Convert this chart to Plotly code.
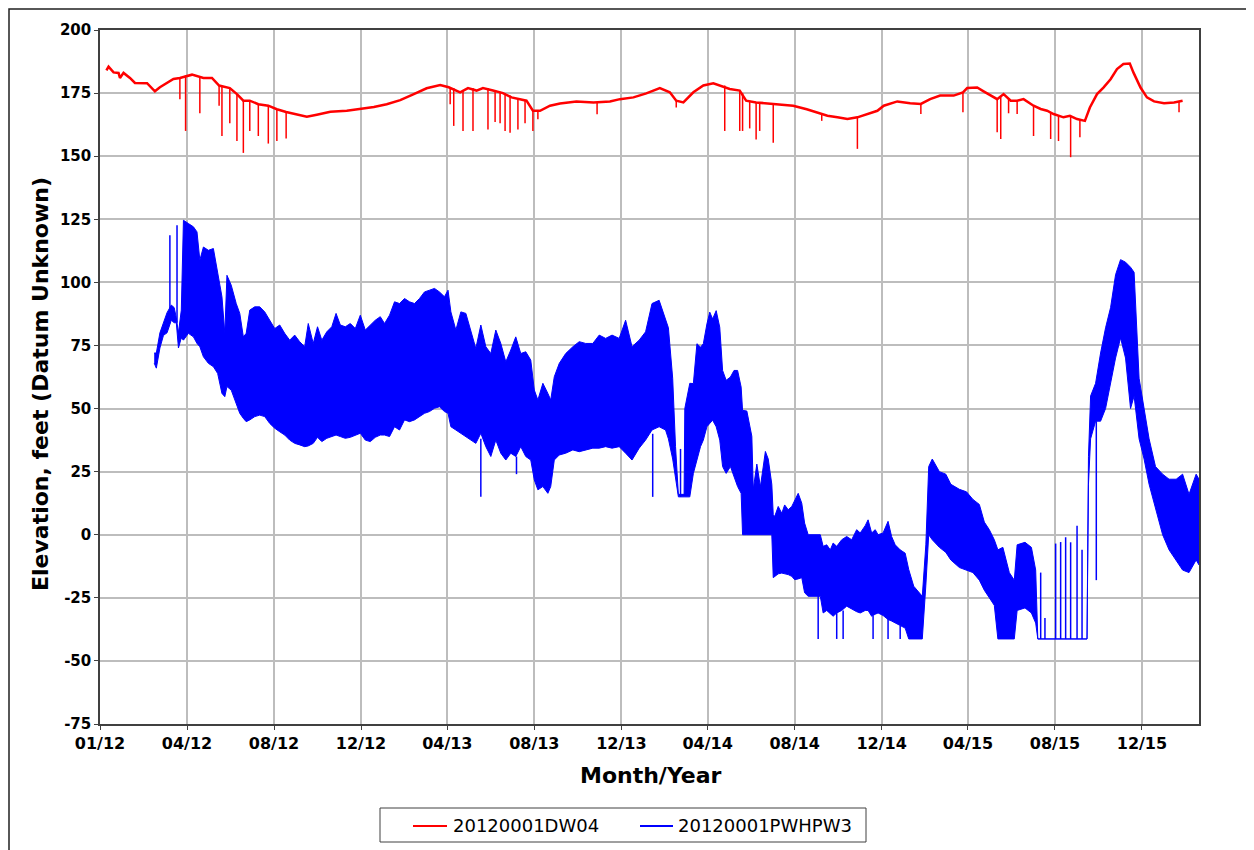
import plotly.graph_objects as go

# ---------------- data ----------------
# Red series 20120001DW04: smooth trace
red_dates = [
    "2011-12-10", "2011-12-13", "2011-12-20", "2011-12-27", "2011-12-29", "2012-01-03",
    "2012-01-12", "2012-01-19", "2012-02-05", "2012-02-12", "2012-02-16", "2012-02-23",
    "2012-03-04", "2012-03-13", "2012-03-22", "2012-04-08", "2012-04-24", "2012-05-06",
    "2012-05-16", "2012-05-31", "2012-06-10", "2012-06-19", "2012-06-28", "2012-07-10",
    "2012-07-24", "2012-08-05", "2012-08-18", "2012-09-02", "2012-09-16", "2012-09-30",
    "2012-10-19", "2012-11-11", "2012-11-30", "2012-12-19", "2013-01-06", "2013-01-25",
    "2013-02-13", "2013-03-03", "2013-03-22", "2013-04-03", "2013-04-19", "2013-04-30",
    "2013-05-12", "2013-05-21", "2013-06-04", "2013-06-18", "2013-06-30", "2013-07-21",
    "2013-07-30", "2013-08-09", "2013-08-23", "2013-09-06", "2013-09-29", "2013-10-23",
    "2013-11-15", "2013-11-29", "2013-12-18", "2014-01-05", "2014-01-24", "2014-02-07",
    "2014-02-16", "2014-02-26", "2014-03-12", "2014-03-26", "2014-04-09", "2014-04-18",
    "2014-05-02", "2014-05-16", "2014-05-25", "2014-06-08", "2014-07-11", "2014-07-30",
    "2014-08-18", "2014-09-08", "2014-09-16", "2014-09-30", "2014-10-14", "2014-10-28",
    "2014-11-11", "2014-11-25", "2014-12-04", "2014-12-23", "2015-01-10", "2015-01-25",
    "2015-02-07", "2015-02-21", "2015-03-12", "2015-03-25", "2015-03-31", "2015-04-14",
    "2015-04-23", "2015-05-03", "2015-05-12", "2015-05-21", "2015-05-31", "2015-06-09",
    "2015-06-18", "2015-07-02", "2015-07-12", "2015-07-21", "2015-07-30", "2015-08-13",
    "2015-08-22", "2015-09-01", "2015-09-12", "2015-09-19", "2015-09-29", "2015-10-08",
    "2015-10-18", "2015-10-27", "2015-11-05", "2015-11-14", "2015-11-19", "2015-11-29",
    "2015-12-08", "2015-12-18", "2016-01-01", "2016-01-15", "2016-01-27",
]
red_values = [
    184.0, 185.5, 183.2, 183.0, 181.0, 183.0,
    181.0, 179.0, 178.9, 176.6, 175.7, 177.3,
    179.0, 180.6, 181.0, 182.3, 181.0, 181.0,
    178.0, 177.0, 174.6, 172.0, 172.0, 170.6,
    170.0, 168.6, 167.5, 166.6, 165.6, 166.4,
    167.6, 168.0, 168.6, 169.5, 170.6, 172.2,
    174.6, 176.9, 178.2, 177.3, 175.3, 177.0,
    176.0, 177.0, 176.0, 175.0, 173.3, 172.0,
    168.0, 168.0, 170.0, 170.9, 171.7, 171.3,
    171.7, 172.6, 173.3, 174.9, 177.0, 175.3,
    172.0, 171.3, 175.3, 178.0, 178.9, 178.0,
    176.6, 176.0, 172.0, 171.3, 170.6, 170.0,
    168.6, 166.6, 166.0, 165.4, 164.7, 165.4,
    166.7, 168.0, 170.0, 171.7, 171.0, 170.7,
    172.6, 174.0, 174.0, 175.3, 177.0, 177.2,
    175.7, 174.0, 172.6, 174.6, 172.0, 172.0,
    172.6, 170.0, 168.7, 168.0, 166.7, 165.4,
    166.0, 164.7, 164.0, 169.3, 174.6, 177.2,
    180.5, 184.5, 186.5, 186.7, 183.2, 177.2,
    173.3, 171.7, 171.0, 171.3, 172.0,
]
# Red downward spikes: date, level before spike, spike bottom
red_spike_dates = [
    "2012-03-22", "2012-03-30", "2012-04-19", "2012-05-16", "2012-05-20", "2012-05-31",
    "2012-06-10", "2012-06-19", "2012-06-28", "2012-07-10", "2012-07-24", "2012-08-05",
    "2012-08-18", "2013-04-05", "2013-04-10", "2013-04-23", "2013-05-07", "2013-05-28",
    "2013-06-07", "2013-06-14", "2013-06-21", "2013-06-28", "2013-07-09", "2013-07-19",
    "2013-07-30", "2013-08-06", "2013-10-28", "2014-02-16", "2014-04-25", "2014-05-16",
    "2014-05-20", "2014-05-30", "2014-06-08", "2014-06-13", "2014-07-02", "2014-09-08",
    "2014-10-28", "2015-01-25", "2015-03-25", "2015-05-12", "2015-05-17", "2015-05-28",
    "2015-06-09", "2015-07-02", "2015-07-26", "2015-08-06", "2015-08-23", "2015-09-05",
    "2016-01-22",
]
red_spike_tops = [
    181.0, 182.0, 181.5, 178.0, 178.0, 177.0,
    174.6, 172.0, 172.0, 170.6, 170.0, 168.6,
    167.5, 177.0, 177.0, 176.0, 177.0, 177.0,
    176.0, 175.5, 175.0, 174.0, 173.0, 172.0,
    168.0, 168.0, 171.3, 172.0, 178.0, 176.0,
    175.0, 172.0, 171.3, 171.0, 170.6, 166.6,
    165.4, 170.7, 175.3, 172.6, 173.5, 173.0,
    172.0, 170.0, 167.5, 166.0, 166.0, 164.5,
    171.5,
]
red_spike_bottoms = [
    172.6, 160.0, 167.0, 170.0, 158.0, 163.0,
    156.0, 151.3, 160.0, 158.0, 155.0, 156.0,
    157.0, 170.6, 162.0, 160.0, 160.0, 160.6,
    163.5, 163.0, 160.0, 159.3, 160.6, 163.0,
    160.0, 164.6, 166.6, 169.3, 160.0, 160.0,
    160.0, 161.0, 156.6, 160.0, 155.3, 164.0,
    152.9, 166.7, 167.4, 159.5, 156.8, 167.0,
    166.7, 158.0, 156.8, 156.0, 149.6, 157.5,
    167.4,
]

# Blue series 20120001PWHPW3: daily swing, upper and lower envelope
blue_dates = [
    "2012-02-15", "2012-02-18", "2012-02-23", "2012-02-28", "2012-03-04", "2012-03-10",
    "2012-03-14", "2012-03-17", "2012-03-20", "2012-03-24",
    "2012-03-27", "2012-04-03", "2012-04-10", "2012-04-15", "2012-04-19", "2012-04-24",
    "2012-05-01", "2012-05-08", "2012-05-14", "2012-05-20", "2012-05-24", "2012-05-27",
    "2012-06-02", "2012-06-09", "2012-06-14", "2012-06-19", "2012-06-23", "2012-06-28",
    "2012-07-05", "2012-07-12", "2012-07-19", "2012-07-26", "2012-08-02", "2012-08-09",
    "2012-08-16", "2012-08-23", "2012-08-30", "2012-09-06", "2012-09-13", "2012-09-18",
    "2012-09-25", "2012-10-01", "2012-10-07", "2012-10-14", "2012-10-21", "2012-10-27",
    "2012-11-02", "2012-11-09", "2012-11-16", "2012-11-23", "2012-11-30", "2012-12-07",
    "2012-12-14", "2012-12-21", "2012-12-28",
    "2013-01-03", "2013-01-10", "2013-01-17", "2013-01-24", "2013-01-31", "2013-02-07",
    "2013-02-14", "2013-02-21", "2013-02-28", "2013-03-07", "2013-03-14", "2013-03-21",
    "2013-03-28", "2013-04-02", "2013-04-06", "2013-04-13", "2013-04-20", "2013-04-27",
    "2013-05-04", "2013-05-11", "2013-05-18", "2013-05-25", "2013-06-01", "2013-06-08",
    "2013-06-15", "2013-06-22", "2013-06-29", "2013-07-06", "2013-07-13", "2013-07-20",
    "2013-07-27", "2013-08-01", "2013-08-06", "2013-08-13", "2013-08-20", "2013-08-24",
    "2013-08-29", "2013-09-05", "2013-09-14", "2013-09-24", "2013-10-03", "2013-10-12",
    "2013-10-22", "2013-10-31", "2013-11-09", "2013-11-18", "2013-11-28", "2013-12-07",
    "2013-12-16", "2013-12-26", "2014-01-04", "2014-01-13", "2014-01-23", "2014-02-01",
    "2014-02-05", "2014-02-11", "2014-02-15", "2014-02-19", "2014-02-27", "2014-02-28",
    "2014-03-07", "2014-03-12", "2014-03-17", "2014-03-22", "2014-03-26", "2014-03-31",
    "2014-04-04", "2014-04-08", "2014-04-13", "2014-04-18", "2014-04-22", "2014-04-27",
    "2014-05-03", "2014-05-08", "2014-05-13", "2014-05-18", "2014-05-20",
    "2014-05-26", "2014-06-02", "2014-06-04", "2014-06-09", "2014-06-14", "2014-06-21",
    "2014-06-25", "2014-06-30", "2014-07-02",
    "2014-07-04", "2014-07-09", "2014-07-14", "2014-07-18", "2014-07-23", "2014-07-28",
    "2014-08-01", "2014-08-06", "2014-08-11", "2014-08-15", "2014-08-20", "2014-09-06",
    "2014-09-10", "2014-09-15", "2014-09-20", "2014-09-24", "2014-09-29", "2014-10-06",
    "2014-10-13", "2014-10-20", "2014-10-27", "2014-11-01", "2014-11-08", "2014-11-12",
    "2014-11-17", "2014-11-22", "2014-11-26", "2014-12-03", "2014-12-10", "2014-12-15",
    "2014-12-20", "2014-12-27", "2015-01-03", "2015-01-08", "2015-01-15", "2015-01-22",
    "2015-01-27",
    "2015-02-01", "2015-02-05", "2015-02-10", "2015-02-20", "2015-03-01",
    "2015-03-08", "2015-03-20", "2015-03-30", "2015-04-08", "2015-04-17", "2015-04-24",
    "2015-05-01", "2015-05-08", "2015-05-13", "2015-05-20", "2015-05-29", "2015-06-05",
    "2015-06-09", "2015-06-20", "2015-06-29", "2015-07-05", "2015-07-08", "2015-09-15",
    "2015-09-17", "2015-09-20", "2015-09-27", "2015-10-04", "2015-10-11", "2015-10-18",
    "2015-10-25", "2015-11-01", "2015-11-08", "2015-11-15", "2015-11-20", "2015-11-27",
    "2015-12-04", "2015-12-11", "2015-12-20", "2015-12-30", "2016-01-08", "2016-01-18",
    "2016-01-27", "2016-02-05", "2016-02-15", "2016-02-19",
]
blue_high = [
    72, 72, 80, 84, 88, 91,
    90, 86, 80, 89,
    124.6, 123.3, 122.0, 120.0, 108.8, 114.0,
    112.7, 113.4, 104.2, 94.3, 79.8, 102.8,
    98.9, 91.6, 87.7, 78.4, 79.8, 89.0,
    90.3, 90.3, 88.3, 85.0, 81.7, 83.1,
    79.8, 77.1, 79.1, 76.5, 74.5, 83.7,
    75.8, 82.4, 77.1, 80.4, 82.4, 87.7,
    83.1, 82.4, 83.7, 81.7, 87.0, 81.1,
    83.1, 85.0, 86.4,
    83.7, 87.0, 92.3, 91.6, 93.6, 92.3,
    91.6, 93.6, 96.2, 96.9, 97.6, 96.2,
    94.3, 96.9, 88.3, 81.1, 88.3, 87.7,
    81.1, 73.8, 83.1, 74.5, 71.8, 81.1,
    75.8, 68.5, 73.2, 78.4, 71.8, 72.5,
    69.2, 57.3, 53.4, 60.0, 56.0, 53.4,
    62.6, 67.9, 71.8, 74.5, 76.5, 75.8,
    75.8, 79.1, 77.8, 79.1, 77.8, 85.0,
    74.5, 77.1, 80.4, 91.6, 92.9, 85.0,
    82, 62, 35, 16, 16, 50,
    60, 59.9, 75.7, 74.3, 75.7, 83.5,
    88.2, 85.5, 88.8, 82.2, 65.1, 61.2,
    62.5, 65.1, 65.1, 58.5, 49.3,
    49, 39, 18, 28, 19, 33,
    30, 20, 8,
    7.2, 11.2, 8.5, 11.8, 9.9, 11.2,
    13.8, 16.4, 12.5, 4.6, 0, 0,
    -4.6, -4, -6, -3.3, -4.6, -2,
    -0.7, -2, 2, 0.7, 3.6, 5.9,
    0.7, 2, 0, 0.7, 5.3, -0.7,
    -4, -6, -7.3, -13.8, -20.4, -23,
    -24.4,
    -4, 27, 30, 25, 24,
    20, 18, 17, 14, 12, 5,
    2, -2, -6, -5, -15, -18,
    -4, -3, -5, -14, -41.3, -41.3,
    31, 55, 60, 72, 82, 90,
    103, 109, 108, 106, 104, 62,
    50, 38, 27, 24, 22, 22,
    24, 16, 24, 22,
]
blue_low = [
    68, 66, 74, 79, 80, 85,
    84, 84, 74, 78,
    77.1, 79.8, 78.4, 75.8, 74.5, 70.5,
    67.9, 66.6, 63.9, 56.0, 54.7, 58.7,
    57.3, 52.1, 48.1, 46.1, 44.8, 45.5,
    46.8, 47.4, 46.8, 44.1, 42.2, 40.8,
    39.5, 37.5, 36.2, 35.6, 34.9, 35.2,
    36.2, 38.6, 36.9, 38.2, 38.9, 39.5,
    38.9, 38.2, 38.6, 39.5, 40.2, 37.5,
    36.9, 38.6, 39.5,
    39.5, 38.9, 42.8, 41.5, 45.5, 44.8,
    45.5, 46.8, 48.1, 48.8, 50.1, 50.7,
    48.8, 48.1, 42.8, 41.5, 40.2, 38.9,
    37.5, 36.2, 40.2, 34.9, 31.0, 37.5,
    32.3, 29.6, 32.3, 31.0, 34.9, 31.0,
    29.6, 21.7, 17.8, 19.1, 16.4, 19.1,
    29.6, 31.6, 32.3, 33.6, 32.9, 33.6,
    34.3, 34.3, 34.9, 34.3, 34.9, 32.3,
    29.6, 34.3, 37.5, 41.5, 42.8, 41.5,
    38, 30, 22, 15, 15, 15,
    15, 24.3, 29.6, 34.9, 37.5, 42.8,
    44.1, 45.4, 42.8, 37.5, 27.0, 24.3,
    27.0, 23.0, 19.1, 16.4, 0,
    0, 0, 0, 0, 0, 0,
    0, 0, -17,
    -16.5, -15.5, -15.2, -15.5, -15.8, -16.5,
    -17.8, -17.5, -17, -23, -24.4, -24.4,
    -31, -30, -31.5, -32.3, -31, -30,
    -28.3, -29.5, -30.5, -31, -30, -30,
    -32.3, -31.5, -31, -32, -33.6, -34.2,
    -34.9, -36.2, -37, -41.3, -41.3, -41.3,
    -41.3,
    -20, 0, -2, -5, -7,
    -10, -13, -14, -15, -18, -22,
    -25, -28, -41.3, -41.3, -41.3, -41.3,
    -30, -29, -31, -35, -41.3, -41.3,
    20, 38, 45, 45, 50, 60,
    70, 78, 70, 50, 55, 38,
    30, 20, 10, 0, -6, -10,
    -14, -15, -10, -12,
]
# Blue isolated spikes: date, start level, end level
blue_spike_dates = [
    "2012-03-08", "2012-03-18", "2013-05-18", "2013-07-07", "2014-01-14", "2014-02-22",
    "2014-09-03", "2014-09-29", "2014-10-08", "2014-11-19", "2014-12-10", "2014-12-27",
    "2015-07-12", "2015-07-18", "2015-08-02", "2015-08-09", "2015-08-16", "2015-08-23",
    "2015-09-01", "2015-09-08", "2015-09-28",
]
blue_spike_from = [
    88, 84, 38, 31, 40, 15,
    -24, -31, -30, -32, -33, -36,
    -41.3, -41.3, -41.3, -41.3, -41.3, -41.3,
    -41.3, -41.3, 45,
]
blue_spike_to = [
    118.7, 122.6, 15, 24, 15, 34,
    -41.3, -41.3, -41.3, -41.3, -41.3, -41.3,
    -15, -33, -3.5, -2.9, -1, -3,
    3.6, -6, -18,
]

tick_dates = [
    "2011-12-01", "2012-04-01", "2012-08-01", "2012-12-01", "2013-04-01", "2013-08-01",
    "2013-12-01", "2014-04-01", "2014-08-01", "2014-12-01", "2015-04-01", "2015-08-01",
    "2015-12-01",
]
tick_labels = [
    "01/12", "04/12", "08/12", "12/12", "04/13", "08/13", "12/13",
    "04/14", "08/14", "12/14", "04/15", "08/15", "12/15",
]
y_ticks = [-75, -50, -25, 0, 25, 50, 75, 100, 125, 150, 175, 200]
y_tick_labels = ["-75", "-50", "-25", "0", "25", "50", "75", "100", "125", "150", "175", "200"]
series_names = ["20120001DW04", "20120001PWHPW3"]

RED = "#ff0000"
BLUE = "#0000ff"
FONT = "DejaVu Sans"

# plot-area geometry in page pixels (page has an 8px body margin)
W, H = 1254, 850
ML, MR, MT, MB = 92, 63, 22, 134
PX0, PY0 = 8 + ML, 8 + MT
PW, PH = W - ML - MR, H - MT - MB


def px(x):
    return (x - PX0) / PW


def py(y):
    return (PY0 + PH - y) / PH


def segments(dates, a, b):
    xs, ys = [], []
    for d, v0, v1 in zip(dates, a, b):
        xs += [d, d, None]
        ys += [v0, v1, None]
    return xs, ys


fig = go.Figure()

# blue band (lower envelope, then upper envelope filled down to it)
fig.add_trace(go.Scatter(x=blue_dates, y=blue_low, mode="lines",
                         line=dict(color=BLUE, width=1), showlegend=False,
                         hoverinfo="skip"))
fig.add_trace(go.Scatter(x=blue_dates, y=blue_high, mode="lines", fill="tonexty",
                         fillcolor=BLUE, line=dict(color=BLUE, width=1),
                         name=series_names[1], showlegend=False))
bx, by = segments(blue_spike_dates, blue_spike_from, blue_spike_to)
fig.add_trace(go.Scatter(x=bx, y=by, mode="lines", line=dict(color=BLUE, width=1.5),
                         showlegend=False, connectgaps=False, hoverinfo="skip"))

# red trace and its spikes
fig.add_trace(go.Scatter(x=red_dates, y=red_values, mode="lines",
                         line=dict(color=RED, width=2.5), name=series_names[0],
                         showlegend=False))
rx, ry = segments(red_spike_dates, red_spike_tops, red_spike_bottoms)
fig.add_trace(go.Scatter(x=rx, y=ry, mode="lines", line=dict(color=RED, width=1.5),
                         showlegend=False, connectgaps=False, hoverinfo="skip"))

axis_common = dict(
    showgrid=True, gridcolor="#bdbdbd", gridwidth=2,
    showline=True, linecolor="#404040", linewidth=1.5, mirror=True,
    ticks="outside", ticklen=4, tickcolor="#404040", zeroline=False,
)

# outer frame and manual legend box (positions in page pixels)
shapes = [
    dict(type="rect", xref="paper", yref="paper", x0=px(9), x1=px(1300),
         y0=py(900), y1=py(9), line=dict(color="#202020", width=1.5),
         fillcolor="rgba(0,0,0,0)", layer="below"),
    dict(type="rect", xref="paper", yref="paper", x0=px(380), x1=px(866),
         y0=py(842), y1=py(808), line=dict(color="#404040", width=1),
         fillcolor="white"),
    dict(type="line", xref="paper", yref="paper", x0=px(413), x1=px(447),
         y0=py(826), y1=py(826), line=dict(color=RED, width=2)),
    dict(type="line", xref="paper", yref="paper", x0=px(640), x1=px(673),
         y0=py(826), y1=py(826), line=dict(color=BLUE, width=2)),
]
legend_font = dict(family=FONT, size=18, color="black")
annotations = [
    dict(text="Month/Year", xref="paper", yref="paper", x=px(651), y=py(775),
         xanchor="center", yanchor="middle", showarrow=False,
         font=dict(family=FONT, size=22, color="black", weight="bold")),
    dict(text="Elevation, feet (Datum Unknown)", xref="paper", yref="paper",
         x=px(40), y=py(384), xanchor="center", yanchor="middle", textangle=-90,
         showarrow=False,
         font=dict(family=FONT, size=22, color="black", weight="bold")),
    dict(text=series_names[0], xref="paper", yref="paper", x=px(451), y=py(826),
         xanchor="left", yanchor="middle", showarrow=False, font=legend_font),
    dict(text=series_names[1], xref="paper", yref="paper", x=px(676), y=py(826),
         xanchor="left", yanchor="middle", showarrow=False, font=legend_font),
]

fig.update_layout(
    width=W, height=H,
    paper_bgcolor="white", plot_bgcolor="white",
    margin=dict(l=ML, r=MR, t=MT, b=MB),
    xaxis=dict(type="date", range=["2011-12-01", "2016-02-19"],
               tickmode="array", tickvals=tick_dates, ticktext=tick_labels,
               tickfont=dict(family=FONT, size=16, color="black", weight="bold"),
               **axis_common),
    yaxis=dict(range=[-75, 200], tickmode="array", tickvals=y_ticks,
               ticktext=y_tick_labels,
               tickfont=dict(family=FONT, size=15, color="black", weight="bold"),
               **axis_common),
    showlegend=False,
    annotations=annotations,
    shapes=shapes,
)

fig.write_html("out.html")
